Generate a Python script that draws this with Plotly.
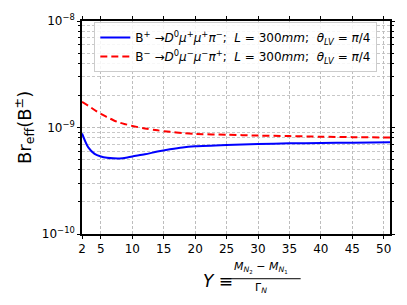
import plotly.graph_objects as go

# Data
Y_vals = [2, 3, 4, 5, 6, 7, 8, 9, 10, 12, 14, 16, 18, 20, 25, 30, 35, 40, 45, 51]
br_plus = [8.8e-10, 6.5e-10, 5.65e-10, 5.35e-10, 5.2e-10, 5.13e-10, 5.12e-10, 5.2e-10, 5.35e-10,
           5.6e-10, 5.95e-10, 6.25e-10, 6.5e-10, 6.65e-10, 6.85e-10, 7.0e-10, 7.1e-10, 7.15e-10,
           7.2e-10, 7.25e-10]
br_minus = [1.74e-9, 1.6e-9, 1.46e-9, 1.34e-9, 1.25e-9, 1.17e-9, 1.11e-9, 1.07e-9, 1.035e-9,
            9.8e-10, 9.4e-10, 9.1e-10, 8.85e-10, 8.7e-10, 8.55e-10, 8.4e-10, 8.3e-10, 8.2e-10,
            8.12e-10, 8.06e-10]
x_ticks = [2, 5, 10, 15, 20, 25, 30, 35, 40, 45, 50]
y_ticks = [1e-10, 1e-9, 1e-8]
y_ticktext = ["10<sup>−10</sup>", "10<sup>−9</sup>", "10<sup>−8</sup>"]
y_minor = [k * 10.0 ** n for n in (-10, -9) for k in range(2, 10)]
name_plus = "B<sup>+</sup> →<i>D</i><sup>0</sup><i>μ</i><sup>+</sup><i>μ</i><sup>+</sup><i>π</i><sup>−</sup>;  <i>L</i> = 300<i>mm</i>;  <i>θ</i><sub><i>LV</i></sub> = <i>π</i>/4"
name_minus = "B<sup>−</sup> →<i>D</i><sup>0</sup><i>μ</i><sup>−</sup><i>μ</i><sup>−</sup><i>π</i><sup>+</sup>;  <i>L</i> = 300<i>mm</i>;  <i>θ</i><sub><i>LV</i></sub> = <i>π</i>/4"

FONT = "DejaVu Sans"

fig = go.Figure()
fig.add_trace(go.Scatter(x=Y_vals, y=br_plus, mode="lines", name=name_plus,
                         line=dict(color="#0000ff", width=2, shape="spline", smoothing=0.8)))
fig.add_trace(go.Scatter(x=Y_vals, y=br_minus, mode="lines", name=name_minus,
                         line=dict(color="#ff0000", width=2, dash="7px,4px", shape="spline", smoothing=0.8)))

grid = dict(gridcolor="#bdbdbd", griddash="3px,2px", gridwidth=0.8)
fig.update_layout(
    width=407, height=305,
    margin=dict(l=82, r=13, t=14, b=71),
    paper_bgcolor="white", plot_bgcolor="white",
    font=dict(family=FONT, size=12, color="black"),
    showlegend=True,
    legend=dict(x=0.04, y=0.995, xanchor="left", yanchor="top",
                bgcolor="rgba(255,255,255,0.85)", bordercolor="#cccccc", borderwidth=1,
                font=dict(family=FONT, size=12), tracegroupgap=0, itemwidth=30),
    xaxis=dict(range=[2, 51], tickvals=x_ticks, showline=True, linecolor="black", linewidth=1.6,
               mirror="ticks", ticks="outside", ticklen=3, tickcolor="black", zeroline=False,
               showgrid=True, **grid, tickfont=dict(size=12)),
    yaxis=dict(type="log", range=[-10, -8], tickvals=y_ticks, ticktext=y_ticktext,
               showline=True, linecolor="black", linewidth=1.6, mirror="ticks",
               ticks="outside", ticklen=3, tickcolor="black", zeroline=False,
               showgrid=True, **grid, tickfont=dict(size=12),
               minor=dict(tickmode="array", tickvals=y_minor, ticks="outside", ticklen=2,
                          tickcolor="black", showgrid=True, gridcolor="#c8c8c8",
                          griddash="3px,2px", gridwidth=0.8)),
)

# Y axis title
fig.add_annotation(text="Br<sub>eff</sub>(B<sup>±</sup>)", xref="paper", yref="paper",
                   x=-0.19, y=0.5, xanchor="center", yanchor="middle", showarrow=False,
                   textangle=-90, font=dict(family=FONT, size=18))
# X axis title as a fraction
fig.add_annotation(text="<i>Y</i> ≡", xref="paper", yref="paper", x=0.44, y=-0.22,
                   xanchor="center", yanchor="middle", showarrow=False,
                   font=dict(family=FONT, size=17))
fig.add_annotation(text="<i>M</i><sub><i>N</i><sub>2</sub></sub> − <i>M</i><sub><i>N</i><sub>1</sub></sub>",
                   xref="paper", yref="paper", x=0.58, y=-0.155, xanchor="center",
                   yanchor="middle", showarrow=False, font=dict(family=FONT, size=11))
fig.add_annotation(text="Γ<sub><i>N</i></sub>", xref="paper", yref="paper", x=0.58, y=-0.255,
                   xanchor="center", yanchor="middle", showarrow=False,
                   font=dict(family=FONT, size=11))
fig.add_shape(type="line", xref="paper", yref="paper", x0=0.45, x1=0.71, y0=-0.21, y1=-0.21,
              line=dict(color="black", width=1))

fig.write_html("out.html", config={"displayModeBar": False},
               post_script="document.body.style.margin='0';document.body.style.overflow='hidden';")
